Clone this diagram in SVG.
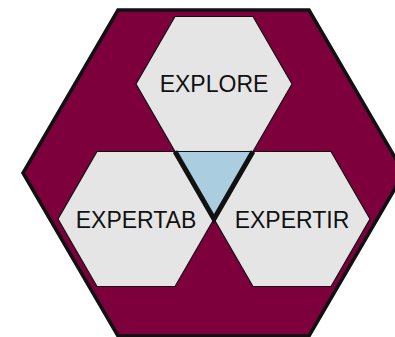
<svg xmlns="http://www.w3.org/2000/svg" width="395" height="337" viewBox="0 0 395 337">
<style>
.hex{fill:#e5e5e5;stroke:#111;stroke-width:1.2}
.lbl{font-family:"Liberation Sans",Arial,sans-serif;font-size:23px;fill:#111;text-anchor:middle}
</style>
<rect width="395" height="337" fill="#fff"/>
<g id="outer">
<polygon points="118,10 309,10 404,173 309,336 118,336 23,173" fill="#7d003c" stroke="#111" stroke-width="3.5" stroke-linejoin="miter"/>
</g>
<g id="center">
<polygon points="175,151.5 253,151.5 214,219" fill="#abcde0"/>
</g>
<g id="explore">
<polygon class="hex" points="175,16.5 253,16.5 292,84 253,151.5 175,151.5 136,84"/>
<text class="lbl" x="214" y="92">EXPLORE</text>
</g>
<g id="expertab">
<polygon class="hex" points="97,151.5 175,151.5 214,219 175,286.5 97,286.5 58,219"/>
<text class="lbl" x="136" y="228">EXPERTAB</text>
</g>
<g id="expertir">
<polygon class="hex" points="253,151.5 331,151.5 370,219 331,286.5 253,286.5 214,219"/>
<text class="lbl" x="292" y="228">EXPERTIR</text>
</g>
<g id="connectors">
<polyline points="175,151.5 214,219 253,151.5" fill="none" stroke="#111" stroke-width="5" stroke-linejoin="miter"/>
</g>
</svg>
